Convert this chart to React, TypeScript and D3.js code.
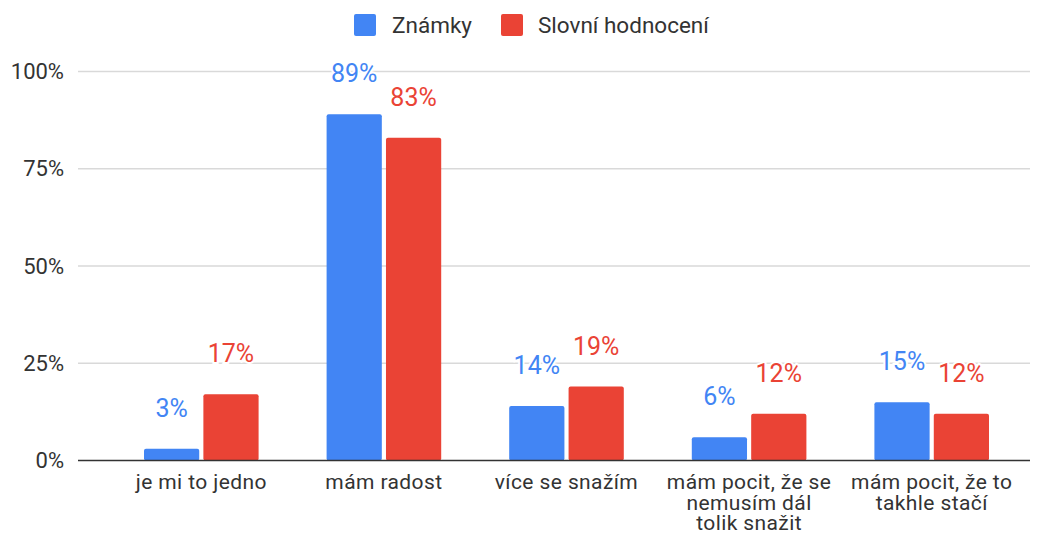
import { useEffect } from 'react';
import * as d3 from 'd3';

const categories = ['je mi to jedno', 'mám radost', 'více se snažím', 'mám pocit, že se nemusím dál tolik snažit', 'mám pocit, že to takhle stačí'];
const categoryLines = [
  ['je mi to jedno'],
  ['mám radost'],
  ['více se snažím'],
  ['mám pocit, že se', 'nemusím dál', 'tolik snažit'],
  ['mám pocit, že to', 'takhle stačí'],
];
const seriesNames = ['Známky', 'Slovní hodnocení'];
const znamky = [3, 89, 14, 6, 15];
const slovni = [17, 83, 19, 12, 12];
const yTicks = [0, 25, 50, 75, 100];
const colors = ['#4285f4', '#ea4335'];

const W = 1047;
const H = 536;
const FONT = 'Roboto, "Noto Sans", sans-serif';

export default function App() {
  useEffect(() => {
    document.body.style.margin = '0';
  }, []);

  const x = d3.scaleBand<string>().domain(categories).range([110, 1023]);
  // bar pair sits in the middle of each band, ~34px empty each side
  const inner = d3.scaleBand<number>().domain([0, 1]).range([34, x.bandwidth() - 34]).paddingInner(0.07);
  const y = d3.scaleLinear().domain([0, 100]).range([460.5, 71.5]);
  const series = [znamky, slovni];
  const fmt = (v: number) => `${v}%`;

  return (
    <svg width={W} height={H} style={{ display: 'block', fontFamily: FONT }}>
      <rect width={W} height={H} fill="#fff" />
      {/* legend */}
      <g>
        <rect x={354} y={14} width={22} height={22} rx={2} fill={colors[0]} />
        <text x={392} y={25} dy="0.35em" fontSize={22.5} fill="#333">{seriesNames[0]}</text>
        <rect x={501} y={14} width={22} height={22} rx={2} fill={colors[1]} />
        <text x={538} y={25} dy="0.35em" fontSize={22.5} fill="#333">{seriesNames[1]}</text>
      </g>
      {/* grid */}
      {yTicks.map((t) => (
        <g key={t}>
          {t !== 0 && <line x1={78} x2={1030} y1={y(t)} y2={y(t)} stroke="#d9d9d9" strokeWidth={1.3} />}
          <text x={64} y={y(t)} dy="0.35em" textAnchor="end" fontSize={22} fill="#333">{fmt(t)}</text>
        </g>
      ))}
      {/* bars */}
      {categories.map((c, i) => (
        <g key={c} transform={`translate(${x(c)},0)`}>
          {series.map((s, j) => {
            const bx = inner(j)!;
            const bw = inner.bandwidth();
            return (
              <g key={j}>
                <rect x={bx} y={y(s[i])} width={bw} height={y(0) - y(s[i])} rx={2} fill={colors[j]} />
                <text x={bx + bw / 2} y={y(s[i]) - 32} textAnchor="middle" fontSize={25} fill={colors[j]}
                  stroke="#fff" strokeWidth={4} paintOrder="stroke">{fmt(s[i])}</text>
              </g>
            );
          })}
          <text y={489} textAnchor="middle" fontSize={21} letterSpacing={0.4} fill="#333">
            {categoryLines[i].map((line, k) => (
              <tspan key={k} x={x.bandwidth() / 2} dy={k === 0 ? 0 : 20.5}>{line}</tspan>
            ))}
          </text>
        </g>
      ))}
      <line x1={78} x2={1030} y1={y(0)} y2={y(0)} stroke="#333" strokeWidth={1.5} />
    </svg>
  );
}
